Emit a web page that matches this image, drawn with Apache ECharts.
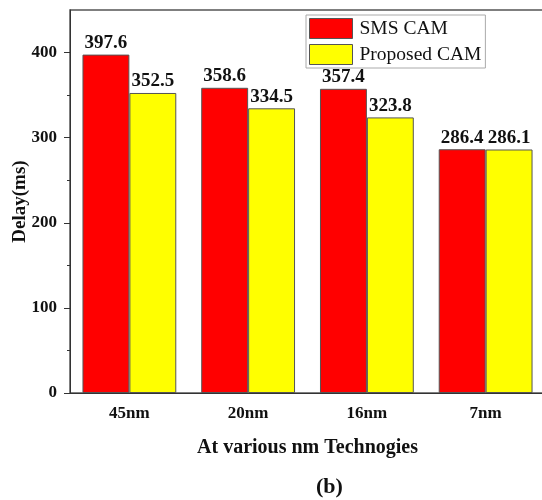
<!DOCTYPE html>
<html>
<head>
<meta charset="utf-8">
<script src="https://cdn.jsdelivr.net/npm/echarts@6/dist/echarts.min.js"></script>
<style>
  html, body { margin: 0; padding: 0; background: #fff; overflow: hidden; width: 542px; height: 500px; }
  #chart { width: 550px; height: 500px; }
</style>
</head>
<body>
<div id="chart"></div>
<script>
// Delay per technology node, two CAM designs
const nodes = ['45nm', '20nm', '16nm', '7nm'];
const smsCam = [397.6, 358.6, 357.4, 286.4];
const proposedCam = [352.5, 334.5, 323.8, 286.1];
const seriesNames = ['SMS CAM', 'Proposed CAM'];
const majorTicks = [0, 100, 200, 300, 400];
const minorTicks = [50, 150, 250, 350];

const serif = '"Liberation Serif", "Times New Roman", serif';
const axisColor = '#333';

const chart = echarts.init(document.getElementById('chart'), null, { renderer: 'canvas' });

const labelStyle = {
  show: true,
  position: 'top',
  distance: 2,
  fontFamily: serif,
  fontWeight: 'bold',
  fontSize: 19,
  color: '#111'
};

chart.setOption({
  animation: false,
  backgroundColor: '#fff',
  grid: {
    left: 70, right: 5, top: 10, bottom: 107,
    containLabel: false,
    outerBoundsMode: 'none',
    show: true, borderColor: '#555', borderWidth: 1.5, backgroundColor: 'transparent'
  },
  legend: {
    orient: 'vertical',
    left: 306, top: 15,
    padding: [3, 4, 3, 3],
    itemWidth: 43, itemHeight: 20, itemGap: 5,
    borderColor: '#aaa', borderWidth: 1,
    icon: 'rect',
    itemStyle: { borderColor: '#555', borderWidth: 1 },
    textStyle: { fontFamily: serif, fontSize: 19.5, color: '#111', padding: [0, 0, 0, 2] },
    data: seriesNames
  },
  title: {
    text: '(b)',
    left: 316, top: 476,
    padding: 0,
    textStyle: { fontFamily: serif, fontWeight: 'bold', fontSize: 22, color: '#111' }
  },
  xAxis: [
    {
      type: 'category',
      data: nodes,
      position: 'bottom',
      name: 'At various nm Technogies',
      nameLocation: 'middle',
      nameGap: 45,
      nameTextStyle: { fontFamily: serif, fontWeight: 'bold', fontSize: 20, color: '#111' },
      axisLine: { lineStyle: { color: axisColor, width: 1 } },
      axisTick: { alignWithLabel: true, length: 6, lineStyle: { color: axisColor } },
      axisLabel: { margin: 12, fontFamily: serif, fontWeight: 'bold', fontSize: 17, color: '#111' }
    },
    {
      type: 'category',
      data: nodes,
      position: 'bottom',
      axisLine: { show: false },
      axisTick: { length: 3, lineStyle: { color: axisColor } },
      axisLabel: { show: false }
    }
  ],
  yAxis: [
    {
      type: 'value',
      min: 0, max: 450,
      position: 'left',
      name: 'Delay(ms)',
      nameLocation: 'middle',
      nameGap: 40,
      nameMoveOverlap: false,
      nameTextStyle: { fontFamily: serif, fontWeight: 'bold', fontSize: 19, color: '#111' },
      splitLine: { show: false },
      axisLine: { show: true, lineStyle: { color: axisColor, width: 1 } },
      axisTick: { show: true, length: 6, customValues: majorTicks, lineStyle: { color: axisColor } },
      axisLabel: { margin: 13, customValues: majorTicks, fontFamily: serif, fontWeight: 'bold', fontSize: 17, color: '#111' }
    },
    {
      type: 'value',
      min: 0, max: 450,
      position: 'left',
      splitLine: { show: false },
      axisLine: { show: false },
      axisTick: { show: true, length: 3, customValues: minorTicks, lineStyle: { color: axisColor } },
      axisLabel: { show: false }
    }
  ],
  series: [
    {
      name: seriesNames[0],
      type: 'bar',
      data: smsCam,
      barGap: '0%',
      barCategoryGap: '21%',
      itemStyle: { color: '#ff0000', borderColor: '#555', borderWidth: 1 },
      label: labelStyle
    },
    {
      name: seriesNames[1],
      type: 'bar',
      data: proposedCam,
      barGap: '0%',
      barCategoryGap: '21%',
      itemStyle: { color: '#ffff00', borderColor: '#555', borderWidth: 1 },
      label: labelStyle
    }
  ]
});
</script>
</body>
</html>
